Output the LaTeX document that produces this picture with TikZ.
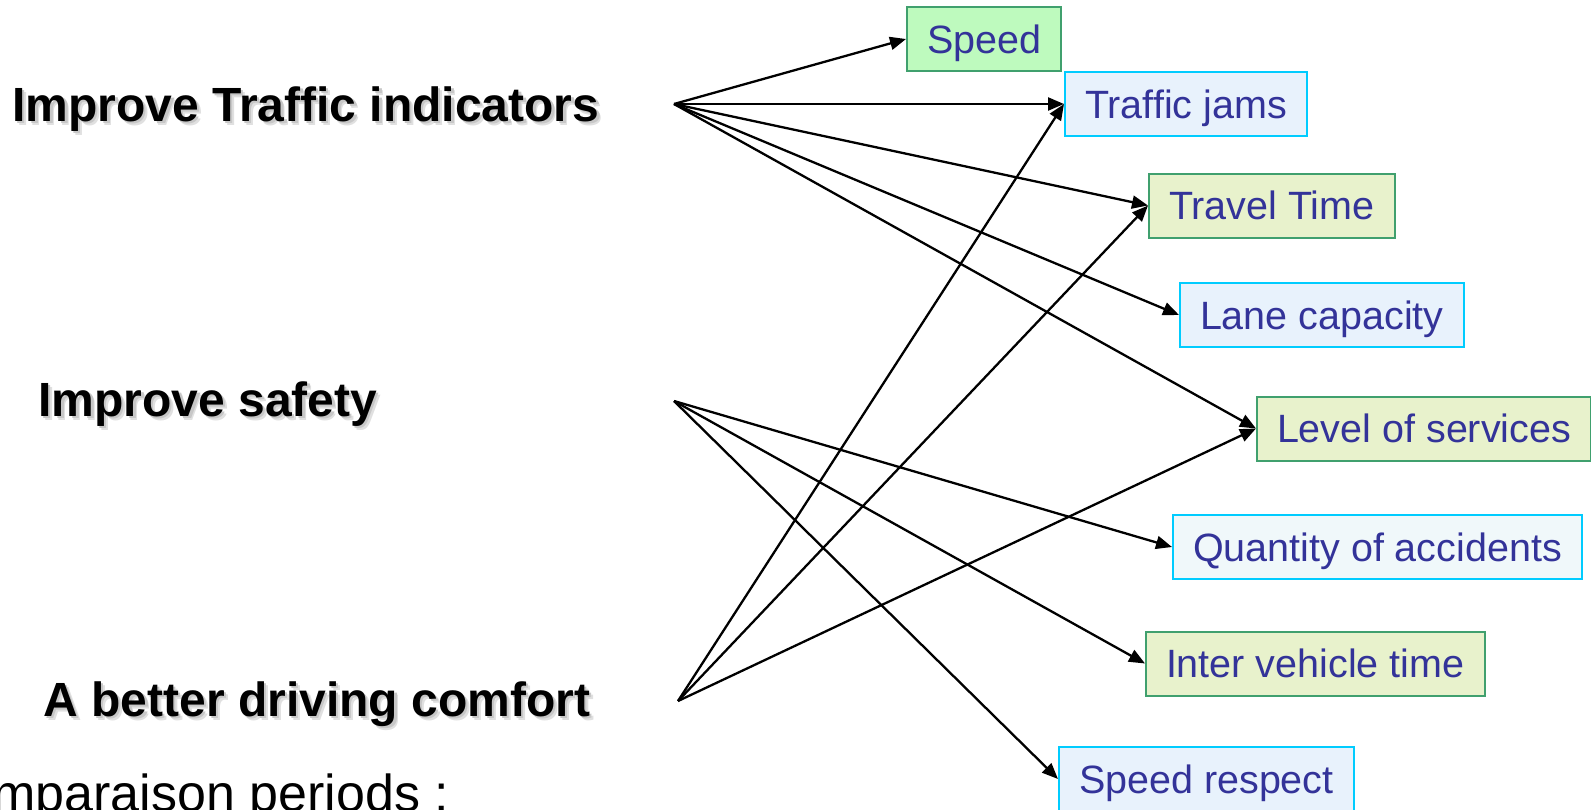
\documentclass[tikz,border=0pt]{standalone}
\usepackage{fontspec}
\setmainfont{Liberation Sans}
\usetikzlibrary{arrows.meta}
\definecolor{txtblue}{RGB}{51,51,153}
\definecolor{gborder}{RGB}{64,160,110}
\definecolor{cborder}{RGB}{0,204,255}
\definecolor{gfill}{RGB}{190,250,190}
\definecolor{yfill}{RGB}{232,242,204}
\definecolor{bfill}{RGB}{232,242,252}
\definecolor{qfill}{RGB}{240,248,250}
\tikzset{
  box/.style={draw, line width=1pt, anchor=west, minimum height=32pt, inner xsep=10pt, inner ysep=0pt,
    text height=18.4pt, text depth=4.3pt,
    font=\fontsize{19.75}{20}\selectfont, text=txtblue},
  gbox/.style={box, draw=gborder, fill=gfill},
  ybox/.style={box, draw=gborder, fill=yfill},
  bbox/.style={box, draw=cborder, fill=bfill},
  qbox/.style={box, draw=cborder, fill=qfill},
  title/.style={anchor=base west, inner sep=0pt, font=\bfseries\fontsize{24}{24}\selectfont},
  shadowtxt/.style={title, text=black!22},
  shadowtxtb/.style={title, text=black!12},
  link/.style={-{Triangle[length=8pt,width=6.5pt]}, line width=1.15pt, black},
}
\begin{document}
\begin{tikzpicture}[x=0.5pt,y=-0.5pt]
\useasboundingbox (0,0) rectangle (1591,809);
% titles with soft shadow
\node[shadowtxtb] (s1b) at (16,125) {Improve Traffic indicators};
\node[shadowtxt] (s1) at (14.5,123.5) {Improve Traffic indicators};
\node[title] (t1) at (12,121) {Improve Traffic indicators};
\node[shadowtxtb] (s2b) at (42,420) {Improve safety};
\node[shadowtxt] (s2) at (40.5,418.5) {Improve safety};
\node[title] (t2) at (38,416) {Improve safety};
\node[shadowtxtb] (s3b) at (47,720) {A better driving comfort};
\node[shadowtxt] (s3) at (45.5,718.5) {A better driving comfort};
\node[title] (t3) at (43,716) {A better driving comfort};
\node[anchor=base west, inner sep=0pt, font=\fontsize{26}{26}\selectfont] (cmp) at (-8,811) {mparaison periods :};
% origins
\coordinate (oTI) at (674,104);
\coordinate (oS) at (674,401);
\coordinate (oC) at (678,701);
% boxes
\node[gbox] (speed) at (906,39) {Speed};
\node[bbox] (tj) at (1064,104) {Traffic jams};
\node[ybox] (tt) at (1148,205.5) {Travel Time};
\node[bbox] (lc) at (1179,315) {Lane capacity};
\node[ybox] (los) at (1256,428.5) {Level of services};
\node[qbox] (qoa) at (1172,547) {Quantity of accidents};
\node[ybox] (ivt) at (1145,663.5) {Inter vehicle time};
\node[bbox] (sr) at (1058,779) {Speed respect};
% connectors
\draw[link] (oTI) -- (speed.west);
\draw[link] (oTI) -- (tj.west);
\draw[link] (oTI) -- (tt.west);
\draw[link] (oTI) -- (lc.west);
\draw[link] (oTI) -- (los.west);
\draw[link] (oS) -- (qoa.west);
\draw[link] (oS) -- (ivt.west);
\draw[link] (oS) -- (sr.west);
\draw[link] (oC) -- (tj.west);
\draw[link] (oC) -- (tt.west);
\draw[link] (oC) -- (los.west);
\end{tikzpicture}
\end{document}
